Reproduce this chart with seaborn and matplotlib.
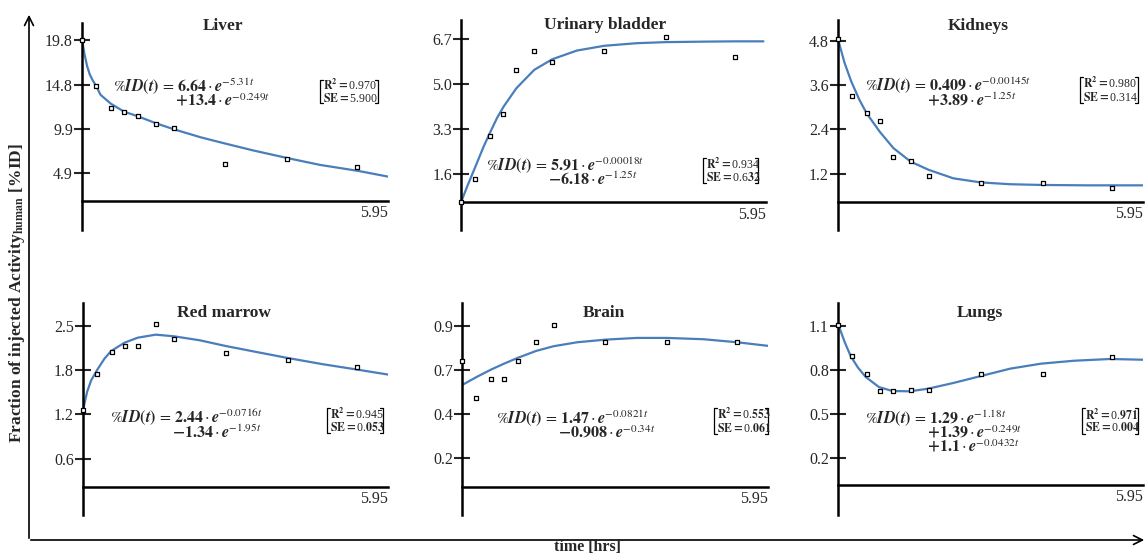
import numpy as np
import pandas as pd
import seaborn as sns
import matplotlib.pyplot as plt

sns.set_theme(style="white")
plt.rcParams['font.family'] = ['Liberation Serif', 'DejaVu Serif']
plt.rcParams['mathtext.fontset'] = 'stix'

BLUE = '#4a7ebb'
W, H = 1148, 555

# measurement times [hrs]
t_meas = [0, 0.28, 0.56, 0.82, 1.08, 1.43, 1.78, 2.79, 3.99, 5.35]

liver_meas = [19.87, 14.7, 12.16, 11.75, 11.37, 10.47, 10.02, 5.94, 6.47, 5.64]
bladder_meas = [0.51, 1.41, 3.02, 3.86, 5.54, 6.27, 5.84, 6.26, 6.78, 6.03]
kidney_meas = [4.84, 3.31, 2.83, 2.62, 1.64, 1.55, 1.13, 0.93, 0.93, 0.82]
marrow_meas = [1.30, 1.81, 2.13, 2.21, 2.21, 2.53, 2.31, 2.11, 2.01, 1.91]
brain_meas = [0.715, 0.519, 0.618, 0.618, 0.718, 0.814, 0.907, 0.814, 0.814, 0.814]
lung_meas = [1.111, 0.895, 0.774, 0.660, 0.660, 0.663, 0.663, 0.774, 0.774, 0.888]

# fitted curves
liver_fit_t = [0, 0.05, 0.10, 0.15, 0.20, 0.28, 0.36, 0.56, 0.82, 1.08, 1.44, 1.78,
               2.30, 2.81, 3.34, 4.01, 4.63, 5.37, 5.95]
liver_fit = [19.9, 18.2, 16.9, 16.0, 15.4, 14.63, 13.7, 12.7, 11.8, 11.3, 10.5, 9.84,
             8.94, 8.19, 7.44, 6.58, 5.83, 5.16, 4.52]

bladder_fit_t = [0, 0.12, 0.28, 0.44, 0.56, 0.70, 0.83, 1.08, 1.43, 1.78, 2.26, 2.79,
                 3.43, 3.99, 4.79, 5.35, 5.90]
bladder_fit = [0.51, 1.11, 1.86, 2.62, 3.13, 3.70, 4.14, 4.84, 5.54, 5.94, 6.27, 6.45,
               6.55, 6.59, 6.61, 6.62, 6.62]

kidney_fit_t = [0, 0.13, 0.26, 0.42, 0.56, 0.81, 1.08, 1.42, 1.77, 2.25, 2.78, 3.36,
                3.99, 4.86, 5.95]
kidney_fit = [4.84, 4.19, 3.69, 3.19, 2.83, 2.34, 1.89, 1.52, 1.30, 1.07, 0.96, 0.91,
              0.89, 0.88, 0.88]

marrow_fit_t = [0, 0.08, 0.16, 0.28, 0.42, 0.55, 0.81, 1.07, 1.42, 1.78, 2.28, 2.78,
                3.38, 3.99, 4.68, 5.35, 5.95]
marrow_fit = [1.293, 1.556, 1.722, 1.875, 2.033, 2.142, 2.261, 2.333, 2.376, 2.352,
              2.295, 2.214, 2.128, 2.042, 1.952, 1.875, 1.804]

brain_fit_t = [0, 0.29, 0.57, 0.82, 1.08, 1.44, 1.78, 2.24, 2.79, 3.40, 3.99, 4.70,
               5.35, 5.95]
brain_fit = [0.588, 0.632, 0.671, 0.702, 0.732, 0.769, 0.794, 0.815, 0.829, 0.838,
             0.838, 0.831, 0.815, 0.796]

lung_fit_t = [0, 0.13, 0.25, 0.39, 0.54, 0.80, 1.06, 1.40, 1.76, 2.25, 2.76, 3.36,
              3.96, 4.60, 5.31, 5.95]
lung_fit = [1.118, 0.993, 0.895, 0.818, 0.754, 0.685, 0.658, 0.656, 0.674, 0.713,
            0.758, 0.811, 0.845, 0.865, 0.877, 0.872]

# y tick positions and their printed labels
liver_ticks = [19.8, 14.8, 9.9, 4.9]
liver_labels = ['19.8', '14.8', '9.9', '4.9']
bladder_ticks = [6.7, 5.0, 3.3, 1.6]
bladder_labels = ['6.7', '5.0', '3.3', '1.6']
kidney_ticks = [4.8, 3.6, 2.4, 1.2]
kidney_labels = ['4.8', '3.6', '2.4', '1.2']
marrow_ticks = [2.5, 1.867, 1.233, 0.6]
marrow_labels = ['2.5', '1.8', '1.2', '0.6']
brain_ticks = [0.9, 0.667, 0.433, 0.2]
brain_labels = ['0.9', '0.7', '0.4', '0.2']
lung_ticks = [1.1, 0.8, 0.5, 0.2]
lung_labels = ['1.1', '0.8', '0.5', '0.2']

names = ['Liver', 'Urinary bladder', 'Kidneys', 'Red marrow', 'Brain', 'Lungs']

IND = r'\hspace{5.4}'
equations = [
    [r'$\%\boldsymbol{ID(t)}\,=\,\mathbf{6.64}\cdot\boldsymbol{e}^{-5.31t}$',
     r'$' + IND + r'\mathbf{+13.4}\cdot\boldsymbol{e}^{-0.249t}$'],
    [r'$\%\boldsymbol{ID(t)}\,=\,\mathbf{5.91}\cdot\boldsymbol{e}^{-0.00018t}$',
     r'$' + IND + r'\mathbf{-6.18}\cdot\boldsymbol{e}^{-1.25t}$'],
    [r'$\%\boldsymbol{ID(t)}\,=\,\mathbf{0.409}\cdot\boldsymbol{e}^{-0.00145t}$',
     r'$' + IND + r'\mathbf{+3.89}\cdot\boldsymbol{e}^{-1.25t}$'],
    [r'$\%\boldsymbol{ID(t)}\,=\,\mathbf{2.44}\cdot\boldsymbol{e}^{-0.0716t}$',
     r'$' + IND + r'\mathbf{-1.34}\cdot\boldsymbol{e}^{-1.95t}$'],
    [r'$\%\boldsymbol{ID(t)}\,=\,\mathbf{1.47}\cdot\boldsymbol{e}^{-0.0821t}$',
     r'$' + IND + r'\mathbf{-0.908}\cdot\boldsymbol{e}^{-0.34t}$'],
    [r'$\%\boldsymbol{ID(t)}\,=\,\mathbf{1.29}\cdot\boldsymbol{e}^{-1.18t}$',
     r'$' + IND + r'\mathbf{+1.39}\cdot\boldsymbol{e}^{-0.249t}$',
     r'$' + IND + r'\mathbf{+1.1}\cdot\boldsymbol{e}^{-0.0432t}$'],
]
r2_text = [
    [r'$\mathbf{R^2=}$0.970', r'$\mathbf{SE=}$5.900'],
    [r'$\mathbf{R^2=}$0.934', r'$\mathbf{SE=}$0.6$\mathbf{32}$'],
    [r'$\mathbf{R^2=}$0.980', r'$\mathbf{SE=}$0.314'],
    [r'$\mathbf{R^2=}$0.945', r'$\mathbf{SE=}$0.$\mathbf{053}$'],
    [r'$\mathbf{R^2=}$0.$\mathbf{553}$', r'$\mathbf{SE=}$0.$\mathbf{061}$'],
    [r'$\mathbf{R^2=}$0.$\mathbf{971}$', r'$\mathbf{SE=}$0.$\mathbf{004}$'],
]

meas = [liver_meas, bladder_meas, kidney_meas, marrow_meas, brain_meas, lung_meas]
fit_t = [liver_fit_t, bladder_fit_t, kidney_fit_t, marrow_fit_t, brain_fit_t, lung_fit_t]
fit = [liver_fit, bladder_fit, kidney_fit, marrow_fit, brain_fit, lung_fit]
ticks = [liver_ticks, bladder_ticks, kidney_ticks, marrow_ticks, brain_ticks, lung_ticks]
tlabels = [liver_labels, bladder_labels, kidney_labels, marrow_labels, brain_labels, lung_labels]

# layout (pixels): axes box left, right, top, bottom; y limits; height of the time axis
boxes = [(82, 388, 23, 230), (461, 766, 20, 230), (838, 1143, 20, 230),
         (83, 388, 303, 515), (462, 768, 303, 515), (838, 1143, 303, 515)]
ylims = [(-1.47, 21.75), (-0.54, 7.43), (-0.33, 5.36),
         (-0.21, 2.83), (-0.10, 1.023), (-0.19, 1.26)]
bases = [1.8, 0.51, 0.44, 0.196, 0.05, 0.013]
title_pos = [(223, 26), (605, 25), (978, 26), (224, 313), (604, 313), (980, 313)]
# left edge and vertical centre of each equation block
eq_pos = [(113, 93), (486, 172), (865, 92), (110, 425), (496, 425), (865, 432)]
r2_box = [(320, 378, 80, 103), (703, 758, 158, 183), (1080, 1138, 77, 103),
          (327, 383, 408, 433), (714, 768, 408, 434), (1082, 1138, 408, 434)]

fig = plt.figure(figsize=(W / 100, H / 100), dpi=100)

for i in range(6):
    l, r, t, b = boxes[i]
    ax = fig.add_axes([l / W, 1 - b / H, (r - l) / W, (b - t) / H])
    ax.set_facecolor('none')
    sns.lineplot(x=fit_t[i], y=fit[i], ax=ax, color=BLUE, linewidth=1.6)
    sns.scatterplot(x=t_meas, y=meas[i], ax=ax, marker='s', s=12, color='white',
                    edgecolor='black', linewidth=0.9, zorder=3, clip_on=False)
    ax.set_xlim(0, 5.95)
    ax.set_ylim(*ylims[i])
    ax.spines['top'].set_visible(False)
    ax.spines['right'].set_visible(False)
    ax.spines['bottom'].set_position(('data', bases[i]))
    for s in ['left', 'bottom']:
        ax.spines[s].set_linewidth(1.8)
        ax.spines[s].set_color('black')
    ax.set_yticks(ticks[i], tlabels[i])
    ax.set_xticks([5.95], ['5.95'])
    ax.tick_params(axis='y', direction='inout', length=11, width=1.5, labelsize=11.5,
                   pad=1, left=True)
    ax.tick_params(axis='x', length=0, labelsize=11.5, pad=3)
    plt.setp(ax.get_xticklabels(), ha='right')

# overlay for frame arrows and annotations
bg = fig.add_axes([0, 0, 1, 1])
bg.set_xlim(0, W)
bg.set_ylim(H, 0)
bg.axis('off')
bg.set_facecolor('none')

bg.annotate('', xy=(29, 12), xytext=(29, 541),
            arrowprops=dict(arrowstyle='->', lw=1.2, color='black', mutation_scale=16))
bg.annotate('', xy=(1147, 540), xytext=(28, 540),
            arrowprops=dict(arrowstyle='->', lw=1.2, color='black', mutation_scale=16))
bg.text(587, 547, 'time [hrs]', ha='center', va='center', fontsize=11.5, fontweight='bold')
bg.text(17, 293, r'Fraction of injected Activity$_{\mathbf{human}}$ [%ID]', rotation=90,
        ha='center', va='center', fontsize=12.5, fontweight='bold')

for i in range(6):
    bg.text(*title_pos[i], names[i], ha='center', va='center', fontsize=12.5,
            fontweight='bold')
    bg.text(eq_pos[i][0], eq_pos[i][1], '\n'.join(equations[i]), ha='left',
            va='center', fontsize=11.5, linespacing=0.77)
    x0, x1, y0, y1 = r2_box[i]
    bg.plot([x0 + 3, x0, x0, x0 + 3], [y0, y0, y1, y1], color='black', lw=0.9)
    bg.plot([x1 - 3, x1, x1, x1 - 3], [y0, y0, y1, y1], color='black', lw=0.9)
    bg.text(x0 + 3, (y0 + y1) / 2, '\n'.join(r2_text[i]), ha='left', va='center',
            fontsize=8.5, linespacing=0.95)

fig.savefig('out.png', dpi=100)
